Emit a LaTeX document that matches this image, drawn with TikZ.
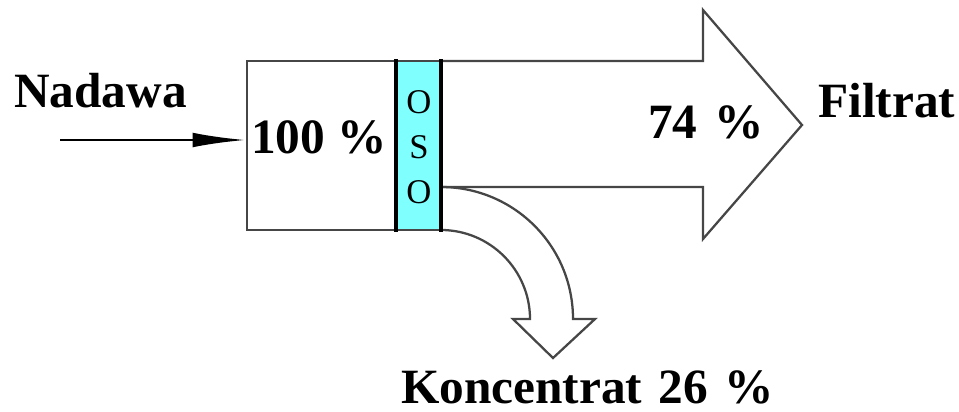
\documentclass[tikz,border=0pt]{standalone}
\usepackage{fontspec}
\setmainfont{Liberation Serif}
\usetikzlibrary{arrows.meta}
\definecolor{membrane}{RGB}{128,255,255}
\definecolor{outline}{RGB}{70,70,70}
\begin{document}
\begin{tikzpicture}[x=0.75pt,y=-0.75pt,
  lbl/.style={anchor=base west,inner sep=0pt,font=\fontsize{37}{40}\selectfont\bfseries},
  oso/.style={inner sep=0pt,font=\fontsize{26}{28}\selectfont},
  edge/.style={draw=outline,line width=1.7pt,line join=miter},
  feed/.style={line width=2.2pt,-{Latex[length=40pt,width=11pt]}}]
\useasboundingbox (0,0) rectangle (959,411);

% corner points of the inlet box and the membrane strip
\coordinate (boxNW) at (247,61);
\coordinate (boxSE) at (396,230);
\coordinate (barNW) at (396,61);
\coordinate (barSE) at (441,230);

% permeate arrow (body + head)
\draw[edge] (441,61) -- (703,61) -- (703,10) -- (802,125) -- (703,239) -- (703,187) -- (441,187);

% bent concentrate arrow
\draw[edge] (441,187) .. controls (514,187) and (573,246) .. (573,319)
  -- (595,319) -- (553,358) -- (513,319) -- (530,319)
  .. controls (530,270) and (490,230) .. (441,230);

% membrane strip
\fill[membrane] (barNW) rectangle (barSE);
% inlet box
\draw[edge,line width=2pt] (boxNW) rectangle (boxSE);
\draw[edge,line width=2pt] (barNW) -- (441,61) (396,230) -- (barSE);
\draw[black,line width=3pt] (396,59) -- (396,232) (441,59) -- (441,232);

% feed arrow
\coordinate (feedin) at (60,140);
\coordinate (feedout) at (246,140);
\draw[feed] (feedin) -- (feedout);

% labels
\node[lbl] (nadawa) at (14,107) {Nadawa};
\node[lbl] (inlet) at (251,153) {100 \%};
\node[lbl] (perm) at (648,138) {74\,\,\%};
\node[lbl] (filtrat) at (818,117) {Filtrat};
\node[lbl] (konc) at (401,403) {Koncentrat\,\,26\,\,\%};
\node[oso] (o1) at (419,102) {O};
\node[oso] (s1) at (419,147) {S};
\node[oso] (o2) at (419,192) {O};
\end{tikzpicture}
\end{document}
